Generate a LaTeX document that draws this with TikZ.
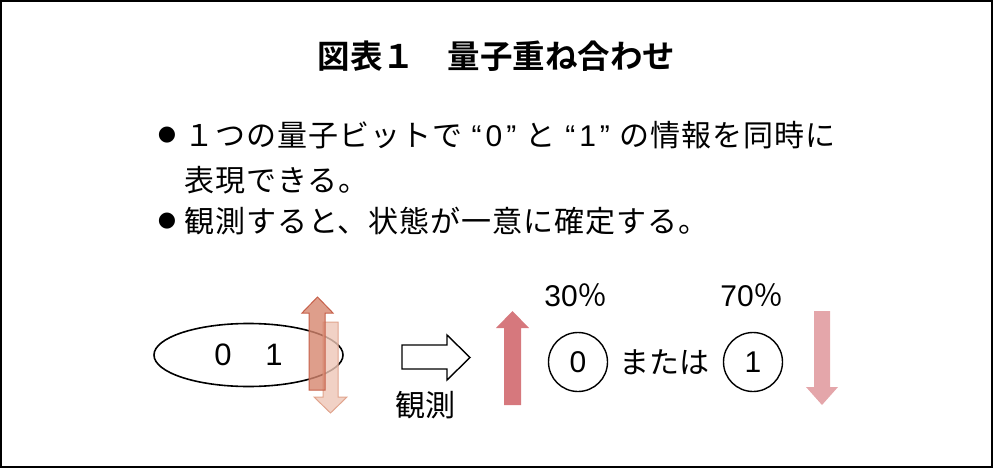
\documentclass[tikz,border=0pt]{standalone}
\usepackage{fontspec}
\setmainfont{Liberation Sans}
\newfontfamily\jpfont{Noto Sans CJK JP}
\newfontfamily\jpsfont[LetterSpace=3.3]{Noto Sans CJK JP}
\newfontfamily\jpbfont{Noto Sans CJK JP Bold}
\newfontfamily\latfont{Liberation Sans}
\newfontfamily\djvfont{DejaVu Sans}
\usetikzlibrary{shapes.geometric}
\definecolor{upA}{RGB}{214,134,110}
\definecolor{upAe}{RGB}{198,96,74}
\definecolor{dnA}{RGB}{238,198,182}
\definecolor{dnAe}{RGB}{224,164,142}
\definecolor{upB}{RGB}{214,120,125}
\definecolor{dnB}{RGB}{228,166,170}
\newcommand{\qd}[1]{{\latfont “\kern4pt#1\kern4pt”}}
\begin{document}
\begin{tikzpicture}[x=1pt,y=-1pt,
  txt/.style={inner sep=0pt,font=\jpfont\fontsize{30}{36}\selectfont},
  body/.style={inner sep=0pt,anchor=base west,font=\jpsfont\fontsize{30}{36}\selectfont},
  bul/.style={inner sep=0pt,font=\djvfont\fontsize{21}{26}\selectfont},
  ring/.style={draw,circle,line width=1.4pt,minimum size=59pt,inner sep=0pt,font=\latfont\fontsize{30}{36}\selectfont}]
\useasboundingbox (0,0) rectangle (993,468);
\draw[line width=2pt] (1,1) rectangle (992,467);
% title
\node[inner sep=0pt,anchor=base,font=\jpbfont\fontsize{32.5}{38}\selectfont] (title) at (496.5,69) {図表１　量子重ね合わせ};
% bullets
\node[bul] (b1) at (167,135) {●};
\node[body] (l1) at (184,146.4) {１つの量子ビットで\hspace{9.5pt}\qd{0}\hspace{9.5pt}と\hspace{9.5pt}\qd{1}\hspace{9.5pt}の情報を同時に};
\node[body] (l2) at (184,191.4) {表現できる。};
\node[bul] (b2) at (167,221) {●};
\node[body] (l3) at (184,232) {観測すると、状態が一意に確定する。};
% superposition ellipse
\node[draw,ellipse,line width=1.6pt,minimum width=189pt,minimum height=63pt,inner sep=0pt,font=\latfont\fontsize{31}{36}\selectfont] (sup) at (248.5,355) {0\hspace{34pt}1};
% left arrows
\draw[dnAe,fill=dnA,fill opacity=0.8,line width=1pt] (323,322) -- (338,322) -- (338,397) -- (347,397) -- (330.5,413) -- (314,397) -- (323,397) -- cycle;
\draw[upAe,fill=upA,fill opacity=0.8,line width=1pt] (309,390) -- (309,313) -- (302,313) -- (317.5,297) -- (333,313) -- (325,313) -- (325,390) -- cycle;
% hollow arrow
\draw[line width=1.4pt,fill=white] (402,345) -- (447,345) -- (447,335) -- (470,357.5) -- (447,380) -- (447,369) -- (402,369) -- cycle;
\node[txt] (obs) at (425,405) {観測};
% right side
\fill[upB] (504,405) -- (504,328) -- (496,328) -- (512.5,311) -- (529,328) -- (521,328) -- (521,405) -- cycle;
\node[txt] (p30) at (576,295) {{\latfont 30}％};
\node[txt] (p70) at (752,295) {{\latfont 70}％};
\node[ring] (c0) at (578,362) {0};
\node[txt] (or) at (664,362) {または};
\node[ring] (c1) at (753,362) {1};
\fill[dnB] (814,311) -- (830,311) -- (830,387) -- (838,387) -- (822,405) -- (806,387) -- (814,387) -- cycle;
\end{tikzpicture}
\end{document}
